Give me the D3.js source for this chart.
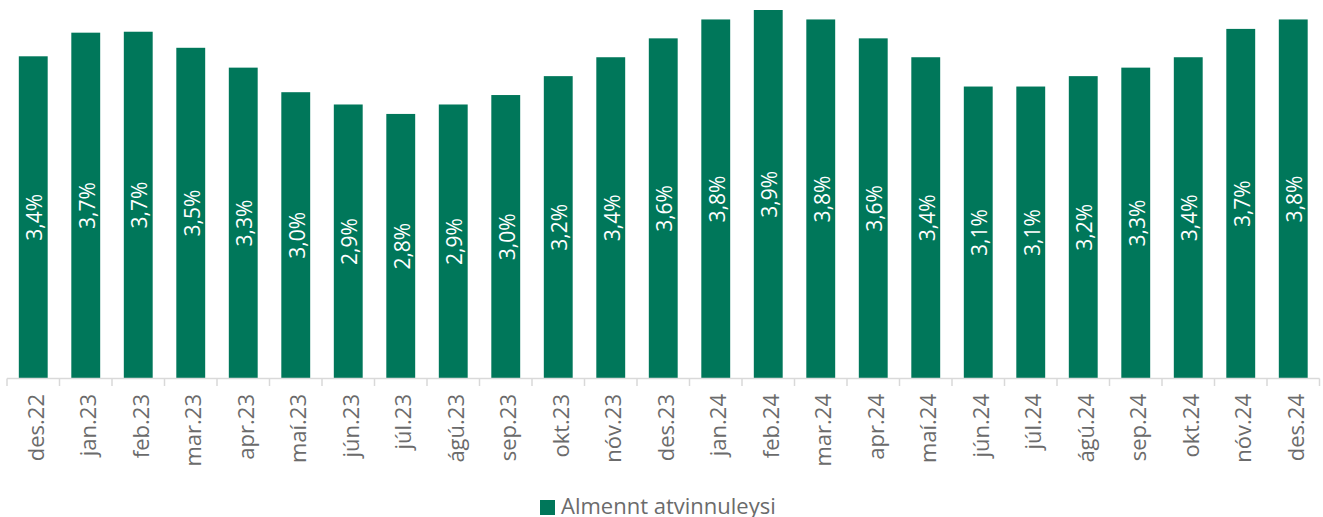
<!DOCTYPE html>
<html><head><meta charset="utf-8">
<script src="https://cdn.jsdelivr.net/npm/d3@7"></script>
<style>body{margin:0;background:#fff;}svg{display:block;font-family:"Open Sans",sans-serif;}</style>
</head><body><svg id="c" width="1323" height="517"></svg>
<script>
const categories = ["des.22","jan.23","feb.23","mar.23","apr.23","maí.23","jún.23","júl.23","ágú.23","sep.23","okt.23","nóv.23","des.23","jan.24","feb.24","mar.24","apr.24","maí.24","jún.24","júl.24","ágú.24","sep.24","okt.24","nóv.24","des.24"];
const values = [3.41,3.66,3.67,3.50,3.29,3.03,2.90,2.80,2.90,3.00,3.20,3.40,3.60,3.80,3.90,3.80,3.60,3.40,3.09,3.09,3.20,3.29,3.40,3.70,3.80];
const labels = ["3,4%","3,7%","3,7%","3,5%","3,3%","3,0%","2,9%","2,8%","2,9%","3,0%","3,2%","3,4%","3,6%","3,8%","3,9%","3,8%","3,6%","3,4%","3,1%","3,1%","3,2%","3,3%","3,4%","3,7%","3,8%"];
const seriesName = "Almennt atvinnuleysi";
const color = "#00775A";

const svg = d3.select("#c");
const x = d3.scaleBand().domain(categories).range([7, 1319.5]).paddingInner(0.45).paddingOuter(0.225);
const y = d3.scaleLinear().domain([0, 3.9]).range([378.5, 10]);

svg.append("g").selectAll("rect").data(values).join("rect")
  .attr("x", (d,i)=>x(categories[i]))
  .attr("width", x.bandwidth())
  .attr("y", d=>y(d))
  .attr("height", d=>y(0)-y(d))
  .attr("fill", color);

svg.append("g").selectAll("text").data(values).join("text")
  .attr("transform", (d,i)=>`translate(${x(categories[i])+x.bandwidth()/2+1},${(y(d)+y(0))/2}) rotate(-90)`)
  .attr("text-anchor","middle").attr("dominant-baseline","central")
  .attr("fill","#fff").attr("font-size","21px")
  .text((d,i)=>labels[i]);

// axis
const ax = svg.append("g");
ax.append("line").attr("x1",7).attr("x2",1319.5).attr("y1",378.5).attr("y2",378.5).attr("stroke","#d9d9d9").attr("stroke-width",1.5);
const step = x.step();
const bounds = d3.range(categories.length+1).map(i=>7+i*step);
ax.selectAll("line.t").data(bounds).join("line").attr("class","t")
  .attr("x1",d=>d).attr("x2",d=>d).attr("y1",378.5).attr("y2",386).attr("stroke","#d9d9d9").attr("stroke-width",1.5);
ax.selectAll("text").data(categories).join("text")
  .attr("transform", d=>`translate(${x(d)+x.bandwidth()/2+1.5},394) rotate(-90)`)
  .attr("text-anchor","end").attr("dominant-baseline","central")
  .attr("fill","#6b6b6b").attr("font-size","22px")
  .text(d=>d);

// legend
const lg = svg.append("g");
lg.append("rect").attr("x",540).attr("y",500).attr("width",15).attr("height",15).attr("fill",color);
lg.append("text").attr("x",561).attr("y",514).attr("fill","#6b6b6b").attr("font-size","22px").text(seriesName);
</script></body></html>
